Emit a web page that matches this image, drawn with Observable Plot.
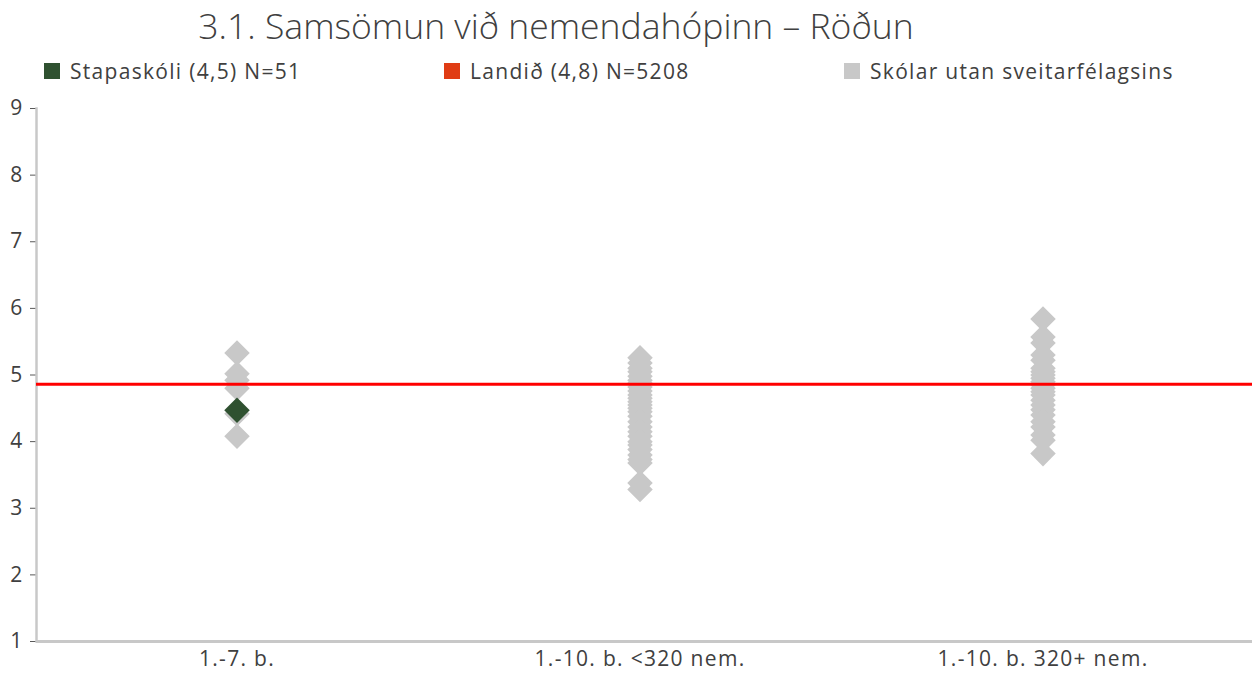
<!DOCTYPE html>
<html>
<head>
<meta charset="utf-8">
<script src="https://cdn.jsdelivr.net/npm/d3@7"></script>
<script src="https://cdn.jsdelivr.net/npm/@observablehq/plot@0.6"></script>
<style>
  html, body { margin: 0; padding: 0; background: #fff; }
  body { width: 1258px; height: 673px; overflow: hidden; font-family: "Open Sans", Lato, sans-serif; color: #404040; }
  #title { position: absolute; left: 0; top: 1px; width: 1112px; text-align: center; font-size: 35.5px; font-weight: 300; color: #404040; white-space: nowrap; }
  #legend { position: absolute; left: 0; top: 57px; width: 1258px; height: 30px; font-size: 21px; letter-spacing: 1.3px; }
  .item { position: absolute; top: 0; display: flex; align-items: center; white-space: nowrap; }
  .sw { width: 16px; height: 16px; margin-right: 10px; }
  #chart { position: absolute; left: 0; top: 92px; }
</style>
</head>
<body>
<div id="title"></div>
<div id="legend"></div>
<div id="chart"></div>
<script>
const titleText = "3.1. Samsömun við nemendahópinn – Röðun";
const categories = ["1.-7. b.", "1.-10. b. <320 nem.", "1.-10. b. 320+ nem."];
const legendLabels = ["Stapaskóli (4,5) N=51", "Landið (4,8) N=5208", "Skólar utan sveitarfélagsins"];
const legendColors = ["#2f5130", "#e03c14", "#c8c8c8"];
const yTicks = [1, 2, 3, 4, 5, 6, 7, 8, 9];

// Stapaskóli value (in category 1)
const schoolCategory = "1.-7. b.";
const schoolValue = 4.47;
// National average
const landidValue = 4.86;
// Other schools by category
const othersCat1 = [5.33, 5.02, 4.92, 4.8, 4.42, 4.08];
const othersCat2 = [5.26, 5.18, 5.1, 5.05, 4.98, 4.92, 4.88, 4.82, 4.76, 4.7, 4.65, 4.6, 4.55, 4.5, 4.45, 4.38, 4.3, 4.22, 4.15, 4.08, 4.0, 3.95, 3.88, 3.8, 3.73, 3.68, 3.38, 3.28];
const othersCat3 = [5.84, 5.57, 5.48, 5.3, 5.22, 5.1, 5.05, 5.0, 4.95, 4.9, 4.85, 4.8, 4.75, 4.7, 4.62, 4.55, 4.48, 4.4, 4.3, 4.22, 4.1, 4.02, 3.82];

document.getElementById("title").textContent = titleText;
const legend = document.getElementById("legend");
const legendX = [44, 444, 844];
legendLabels.forEach((lab, i) => {
  const d = document.createElement("div");
  d.className = "item";
  d.style.left = legendX[i] + "px";
  d.innerHTML = `<div class="sw" style="background:${legendColors[i]}"></div><span>${lab}</span>`;
  legend.appendChild(d);
});

const others = [
  ...othersCat1.map(v => ({cat: categories[0], v})),
  ...othersCat2.map(v => ({cat: categories[1], v})),
  ...othersCat3.map(v => ({cat: categories[2], v}))
];
const school = [{cat: schoolCategory, v: schoolValue}];

const chart = Plot.plot({
  width: 1258,
  height: 581,
  marginLeft: 36,
  marginRight: 6,
  marginTop: 16,
  marginBottom: 32,
  style: {fontFamily: "'Open Sans', Lato, sans-serif", fontSize: "20px", color: "#404040", background: "transparent", letterSpacing: "1.3px"},
  x: {type: "band", domain: categories, range: [34, 1245], padding: 0, label: null},
  y: {domain: [1, 9], label: null},
  marks: [
    Plot.axisY({ticks: yTicks, tickSize: 6, tickPadding: 7, tickFormat: d => d, stroke: "#595959", fontSize: 21}),
    Plot.axisX({tickSize: 0, tickPadding: 10, fontSize: 21}),
    Plot.frame({anchor: "left", stroke: "#c8c8c8", strokeWidth: 2.5}),
    Plot.ruleY([1], {stroke: "#c8c8c8", strokeWidth: 3}),
    Plot.dot(others, {x: "cat", y: "v", symbol: "diamond2", r: 11.5, fill: "#c8c8c8", stroke: null}),
    Plot.dot(school, {x: "cat", y: "v", symbol: "diamond2", r: 11.5, fill: "#2f5130", stroke: null}),
    Plot.ruleY([landidValue], {stroke: "#ff0000", strokeWidth: 3})
  ]
});
document.getElementById("chart").appendChild(chart);
</script>
</body>
</html>
